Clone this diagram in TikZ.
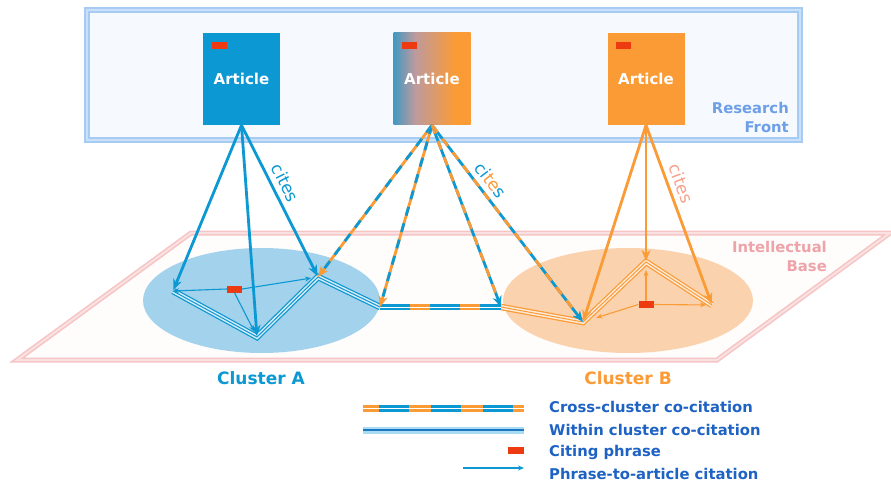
\documentclass[tikz,border=0pt]{standalone}
\usepackage{fontspec}
\setmainfont{DejaVu Sans}
\usetikzlibrary{arrows.meta,shapes.geometric}
\definecolor{cblue}{HTML}{0C98D2}
\definecolor{corange}{HTML}{FA9B36}
\definecolor{cred}{HTML}{EE3A10}
\definecolor{lblue}{HTML}{A3D2EC}
\definecolor{lorange}{HTML}{FAD3AE}
\definecolor{frontline}{HTML}{A6CCF4}
\definecolor{frontfill}{HTML}{F6FAFF}
\definecolor{fronttext}{HTML}{6E9FE6}
\definecolor{basepink}{HTML}{F6C4C4}
\definecolor{basefill}{HTML}{FFFCFC}
\definecolor{basetext}{HTML}{EDA3A8}
\definecolor{legtext}{HTML}{1E62C4}
\definecolor{legband}{HTML}{A9DBF4}
\definecolor{legcenter}{HTML}{1B78C0}
\definecolor{citesr}{HTML}{F5A28C}
\definecolor{gradmid}{HTML}{BE9A9E}
\pgfdeclarehorizontalshading{artgrad}{100bp}{color(0bp)=(cblue); color(19bp)=(cblue); color(39bp)=(gradmid); color(65bp)=(corange); color(100bp)=(corange)}
\begin{document}
\begin{tikzpicture}[x=1pt,y=-1pt,
  article/.style={minimum width=77pt,minimum height=92pt,inner sep=0pt,text=white,font=\bfseries\fontsize{15}{18}\selectfont},
  phrase/.style={fill=cred,minimum width=15pt,minimum height=7pt,inner sep=0pt},
  cite/.style={line width=2.8pt,-{Stealth[length=11pt,width=9pt]}},
  dashover/.style={line width=2.8pt,dash pattern=on 9pt off 8pt,shorten >=11pt},
  parrow/.style={line width=1.1pt,-{Stealth[length=6pt,width=5pt]}},
  withinA/.style={draw=cblue,line width=1pt,line join=miter,preaction={draw=cblue,line width=6.5pt,line join=miter},preaction={draw=white!55!lblue,line width=4pt,line join=miter}},
  withinB/.style={draw=corange,line width=1pt,line join=miter,preaction={draw=corange,line width=6.5pt,line join=miter},preaction={draw=white!55!lorange,line width=4pt,line join=miter}},
  citelabel/.style={font=\fontsize{17}{20}\selectfont},
  legtxt/.style={anchor=west,text=legtext,font=\bfseries\fontsize{14.8}{17}\selectfont,inner sep=0pt},
  areatxt/.style={align=right,anchor=east,font=\bfseries\fontsize{14.8}{19}\selectfont,inner sep=0pt},
  clustertxt/.style={font=\bfseries\fontsize{17}{20}\selectfont,inner sep=0pt}
]
\useasboundingbox (0,0) rectangle (891,484);
\fill[white] (0,0) rectangle (891,484);

% research front
\fill[frontfill] (87,10) rectangle (800,140);
\draw[frontline,line width=1.6pt,double=white!40!frontline,double distance=2pt] (87,10) rectangle (800,140);
\node[areatxt,text=fronttext] (rf) at (789,117) {Research\\Front};

% intellectual base
\fill[basefill] (191,233) -- (890,233) -- (717,360) -- (17,360) -- cycle;
\draw[basepink,line width=1.5pt,double=white!50!basepink,double distance=2pt,line join=miter] (191,233) -- (890,233) -- (717,360) -- (17,360) -- cycle;
\node[areatxt,text=basetext] (ib) at (827,256) {Intellectual\\Base};

% clusters
\fill[lblue] (261.5,300.5) ellipse [x radius=118.5pt, y radius=52.5pt];
\fill[lorange] (628,300.5) ellipse [x radius=125pt, y radius=52.5pt];
\node[clustertxt,text=cblue] (ca) at (261,378) {Cluster A};
\node[clustertxt,text=corange] (cb) at (628,378) {Cluster B};

% articles
\node[article,fill=cblue] (art1) at (241.5,79) {Article};
\node[article,shading=artgrad] (art2) at (432,79) {Article};
\node[article,fill=corange] (art3) at (646,79) {Article};
\node[phrase] (r1) at (219.5,45.5) {};
\node[phrase] (r2) at (409.5,45.5) {};
\node[phrase] (r3) at (623.5,45.5) {};

% reference articles
\coordinate (A1) at (173,291);
\coordinate (A2) at (257,337);
\coordinate (A3) at (318,277);
\coordinate (A4) at (380,307);
\coordinate (B1) at (501,307);
\coordinate (B2) at (583,322);
\coordinate (B3) at (646,262);
\coordinate (B4) at (712,305);

% co-citation edges
\path[withinA] (A1) -- (A2) -- (A3) -- (A4);
\path[withinB] (B1) -- (B2) -- (B3) -- (B4);
\draw[corange,line width=6.5pt] (A4) -- (B1);
\draw[cblue,line width=6.5pt,dash pattern=on 30pt off 20pt] (A4) -- (B1);
\draw[white,line width=0.9pt] (A4) -- (B1);

% citing phrases
\node[phrase] (pa) at (234.5,289) {};
\node[phrase] (pb) at (646,304.5) {};
\draw[parrow,cblue] (pa.west) -- (A1);
\draw[parrow,cblue,shorten >=7pt] (pa.east) -- (A3);
\draw[parrow,cblue,shorten >=6pt] (pa.south) -- (A2);
\draw[parrow,corange,shorten >=8pt] (pb.north) -- (B3);
\draw[parrow,corange,shorten >=6pt] (pb.east) -- (B4);
\draw[parrow,corange,shorten >=14pt] (pb.west) -- (B2);

% citations
\draw[cite,cblue,shorten >=1pt] (art1.south) -- (A1);
\draw[cite,cblue,shorten >=1pt] (art1.south) -- (A2);
\draw[cite,cblue,shorten >=1pt] (art1.south) -- node[citelabel,text=cblue,sloped,above=2pt,pos=0.42] (c1) {cites} (A3);

\draw[cite,corange] (art2.south) -- (A3);
\draw[dashover,cblue] (art2.south) -- (A3);
\draw[cite,corange] (art2.south) -- (A4);
\draw[dashover,cblue] (art2.south) -- (A4);
\draw[cite,cblue] (art2.south) -- (B1);
\draw[dashover,corange] (art2.south) -- (B1);
\draw[cite,cblue] (art2.south) -- (B2);
\draw[dashover,corange] (art2.south) -- node[citelabel,sloped,above=2pt,pos=0.32] (c2) {\textcolor{cblue}{ci}\textcolor{corange}{te}\textcolor{cblue}{s}} (B2);

\draw[cite,corange,shorten >=1pt] (art3.south) -- (B2);
\draw[cite,corange,shorten >=1pt] (art3.south) -- (B3);
\draw[cite,corange,shorten >=1pt] (art3.south) -- node[citelabel,text=citesr,sloped,above=2pt,pos=0.35] (c3) {cites} (B4);

% legend
\coordinate (l1a) at (363,408); \coordinate (l1b) at (524,408);
\coordinate (l2a) at (363,430); \coordinate (l2b) at (524,430);
\coordinate (l4a) at (463,468); \coordinate (l4b) at (524,468);
\draw[corange,line width=7pt] (l1a) -- (l1b);
\draw[cblue,line width=7pt,dash pattern=on 30pt off 22pt,dash phase=-16pt] (l1a) -- (l1b);
\draw[white,line width=0.9pt] (l1a) -- (l1b);
\draw[legband,line width=7pt] (l2a) -- (l2b);
\draw[legcenter,line width=1.2pt] (l2a) -- (l2b);
\node[phrase,minimum width=16pt,minimum height=7pt] (lr) at (516,450) {};
\draw[parrow,cblue] (l4a) -- (l4b);
\node[legtxt] (t1) at (549,407) {Cross-cluster co-citation};
\node[legtxt] (t2) at (549,430) {Within cluster co-citation};
\node[legtxt] (t3) at (549,452) {Citing phrase};
\node[legtxt] (t4) at (549,474) {Phrase-to-article citation};
\end{tikzpicture}
\end{document}
